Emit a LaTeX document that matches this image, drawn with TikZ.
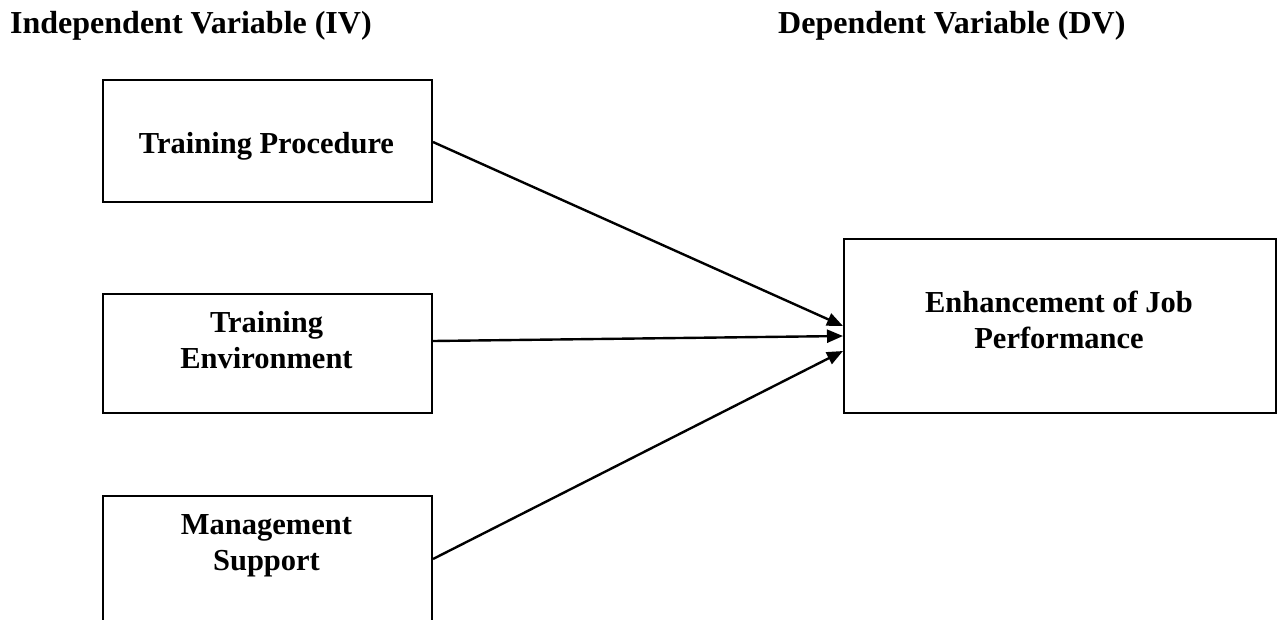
\documentclass[tikz,border=0pt]{standalone}
\usepackage{fontspec}
\setmainfont{Liberation Serif}
\usetikzlibrary{arrows.meta}
\begin{document}
\begin{tikzpicture}[x=1pt,y=-1pt,
  box/.style={draw=black,line width=2pt,inner sep=0pt,anchor=north west},
  lbl/.style={font=\fontsize{30.5}{36}\selectfont\bfseries,align=center,inner sep=0pt,anchor=base},
  hdr/.style={font=\fontsize{32}{36}\selectfont\bfseries,inner sep=0pt,anchor=base west},
  conn/.style={line width=2.4pt,-{Triangle[length=16pt,width=13pt]}}]
\useasboundingbox (0,0) rectangle (1280,619);
\node[hdr] (iv) at (10,33) {Independent Variable (IV)};
\node[hdr] (dv) at (778,33) {Dependent Variable (DV)};
\node[box,minimum width=329pt,minimum height=122pt] (tp) at (102,79) {};
\node[box,minimum width=329pt,minimum height=119pt] (te) at (102,293) {};
\node[box,minimum width=329pt,minimum height=135pt] (ms) at (102,495) {};
\node[box,minimum width=432pt,minimum height=174pt] (ej) at (843,238) {};
\node[lbl] (tpt) at (266.5,153) {Training Procedure};
\node[lbl] (tet) at (266.5,368) {Training\\Environment};
\node[lbl] (mst) at (266.5,570) {Management\\Support};
\node[lbl] (ejt) at (1059,348) {Enhancement of Job\\Performance};
\coordinate (s1) at (tp.east |- 0,142);
\coordinate (s2) at (te.east |- 0,341);
\coordinate (s3) at (ms.east |- 0,559);
\coordinate (t1) at (ej.west |- 0,326);
\coordinate (t2) at (ej.west |- 0,336);
\coordinate (t3) at (ej.west |- 0,351);
\draw[conn] (s1) -- (t1);
\draw[conn] (s2) -- (t2);
\draw[conn] (s3) -- (t3);
\end{tikzpicture}
\end{document}
